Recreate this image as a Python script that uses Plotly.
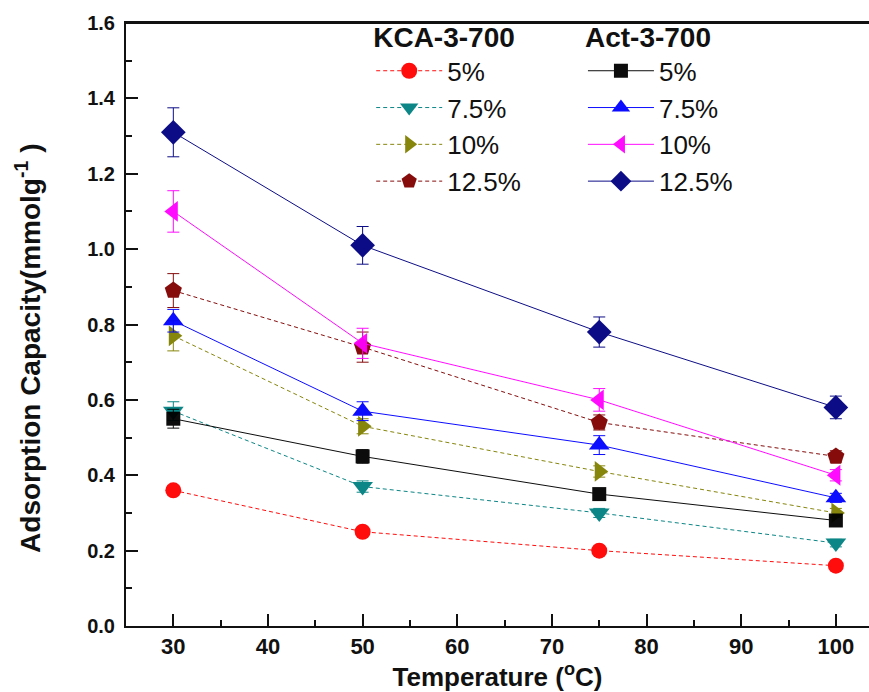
import plotly.graph_objects as go

# Temperatures (°C)
temperature = [30, 50, 75, 100]

# KCA-3-700 adsorption capacity (mmol/g) and error bars
kca_labels = ["5%", "7.5%", "10%", "12.5%"]
kca_5 = [0.36, 0.25, 0.20, 0.16]
kca_5_err = [0.012, 0.010, 0.008, 0.008]
kca_75 = [0.57, 0.37, 0.30, 0.22]
kca_75_err = [0.025, 0.015, 0.012, 0.010]
kca_10 = [0.77, 0.53, 0.41, 0.30]
kca_10_err = [0.040, 0.020, 0.015, 0.012]
kca_125 = [0.89, 0.74, 0.54, 0.45]
kca_125_err = [0.045, 0.040, 0.020, 0.015]

# Act-3-700 adsorption capacity (mmol/g) and error bars
act_labels = ["5%", "7.5%", "10%", "12.5%"]
act_5 = [0.55, 0.45, 0.35, 0.28]
act_5_err = [0.025, 0.018, 0.012, 0.010]
act_75 = [0.81, 0.57, 0.48, 0.34]
act_75_err = [0.030, 0.025, 0.025, 0.012]
act_10 = [1.10, 0.75, 0.60, 0.40]
act_10_err = [0.055, 0.040, 0.030, 0.015]
act_125 = [1.31, 1.01, 0.78, 0.58]
act_125_err = [0.065, 0.050, 0.040, 0.030]

# Axis limits
x_range = [25, 103.5]
y_range = [0, 1.6]

kca_series = [
    (kca_5, kca_5_err, "#ff0000", "circle", 16),
    (kca_75, kca_75_err, "#008080", "triangle-down", 18),
    (kca_10, kca_10_err, "#808000", "triangle-right", 18),
    (kca_125, kca_125_err, "#800000", "pentagon", 18),
]
act_series = [
    (act_5, act_5_err, "#000000", "square", 14),
    (act_75, act_75_err, "#0000ff", "triangle-up", 18),
    (act_10, act_10_err, "#ff00ff", "triangle-left", 18),
    (act_125, act_125_err, "#000080", "diamond", 19),
]

fig = go.Figure()

# top frame of the plotting box, drawn along the upper axis limit
fig.add_trace(go.Scatter(
    x=x_range, y=[y_range[1], y_range[1]], mode="lines",
    line=dict(color="#111", width=2), cliponaxis=False,
    showlegend=False, hoverinfo="skip",
))

for i, (vals, errs, color, sym, size) in enumerate(kca_series):
    fig.add_trace(go.Scatter(
        x=temperature, y=vals, name=kca_labels[i], mode="lines+markers",
        line=dict(color=color, width=1, dash="4px,3px"),
        marker=dict(symbol=sym, size=size, color=color),
        error_y=dict(type="data", array=errs, color=color, thickness=1, width=6),
        legend="legend", legendgroup="k" + str(i), opacity=0.95,
    ))

for i, (vals, errs, color, sym, size) in enumerate(act_series):
    fig.add_trace(go.Scatter(
        x=temperature, y=vals, name=act_labels[i], mode="lines+markers",
        line=dict(color=color, width=1),
        marker=dict(symbol=sym, size=size, color=color),
        error_y=dict(type="data", array=errs, color=color, thickness=1, width=6),
        legend="legend2", legendgroup="a" + str(i), opacity=0.95,
    ))

sans = "Liberation Sans, Arial"

legend_common = dict(
    yanchor="top", xanchor="left", bgcolor="rgba(255,255,255,0)",
    font=dict(family=sans, size=26, color="#111"),
    traceorder="grouped", tracegroupgap=0, itemwidth=66,
)

fig.update_layout(
    width=869, height=692,
    margin=dict(l=126, r=0, t=23, b=66),
    plot_bgcolor="white", paper_bgcolor="white",
    showlegend=True,
    legend=dict(x=0.33, y=1.02,
                title=dict(text="<b>KCA-3-700</b>", side="top",
                           font=dict(family=sans, size=28, color="#111")),
                **legend_common),
    legend2=dict(x=0.615, y=1.02,
                 title=dict(text="<b>Act-3-700</b>", side="top",
                            font=dict(family=sans, size=28, color="#111")),
                 **legend_common),
    xaxis=dict(
        range=x_range, dtick=10, tick0=0,
        ticks="inside", ticklen=12, tickwidth=2, tickcolor="#111",
        minor=dict(dtick=5, ticks="inside", ticklen=6, tickwidth=2, tickcolor="#111"),
        showline=True, linewidth=2, linecolor="#111", mirror=True,
        showgrid=False, zeroline=False,
        tickfont=dict(family=sans, size=22, color="#111", weight="bold"),
        title=dict(text="Temperature (<sup>o</sup>C)", standoff=4,
                   font=dict(family=sans, size=26, color="#111", weight="bold")),
    ),
    yaxis=dict(
        range=y_range, dtick=0.2, tick0=0, tickformat=".1f",
        ticks="inside", ticklen=12, tickwidth=2, tickcolor="#111",
        minor=dict(dtick=0.1, ticks="inside", ticklen=6, tickwidth=2, tickcolor="#111"),
        showline=True, linewidth=2, linecolor="#111", mirror=False,
        showgrid=False, zeroline=False, ticklabelstandoff=5,
        tickfont=dict(family=sans, size=20, color="#111", weight="bold"),
    ),
    annotations=[
        dict(
            text="<b>Adsorption Capacity(mmolg<sup>-1</sup> )</b>",
            xref="paper", yref="paper", x=-0.132, y=0.461,
            xanchor="center", yanchor="middle", textangle=-90, showarrow=False,
            font=dict(family=sans, size=28, color="#111"),
        ),
    ],
)

fig.write_html("out.html")
